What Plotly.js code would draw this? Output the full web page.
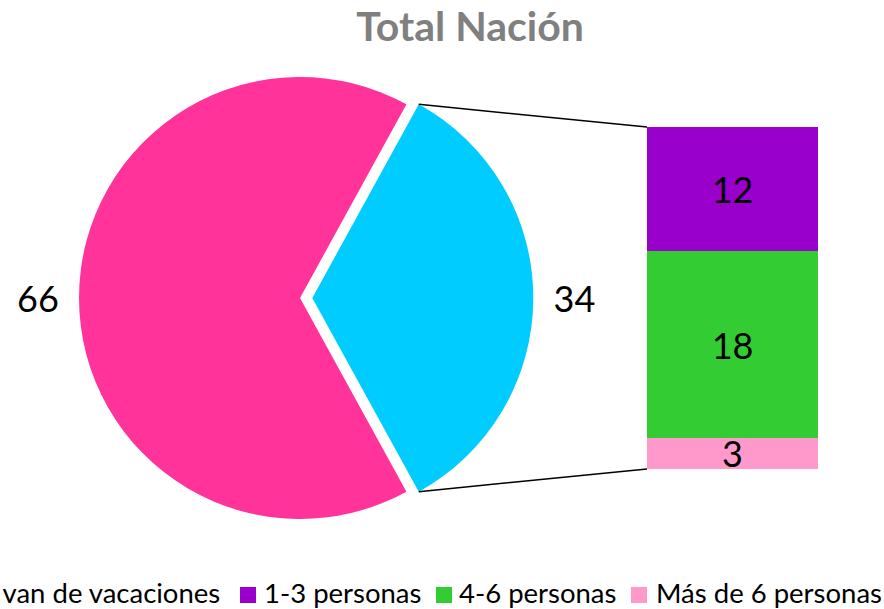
<!DOCTYPE html>
<html><head><meta charset="utf-8">
<script src="https://cdn.plot.ly/plotly-3.0.1.min.js"></script>
<style>html,body{margin:0;padding:0;background:#fff}</style>
</head><body>
<div id="chart" style="width:884px;height:609px"></div>
<script>
// ---- data ----
const pieLabels = ['No van de vacaciones', 'Van de vacaciones'];
const pieValues = [66, 34];
const pieColors = ['#FF3399', '#00CCFF'];
const barLabels = ['1-3 personas', '4-6 personas', 'Más de 6 personas'];
const barValues = [12, 18, 3];
const barColors = ['#9900CC', '#33CC33', '#FF99CC'];
const titleText = 'Total Nación';

// ---- layout geometry ----
const W = 884, H = 609;
const FONT = 'Lato, "Open Sans", sans-serif';
const pieCx = 300, pieCy = 298, pieR = 221, pullPx = 12.3;
const pull = pullPx / pieR;
const boxR = pieR * (1 + pull);
const pieDomX = [(pieCx - boxR) / W, (pieCx + boxR) / W];
const pieDomY = [1 - (pieCy + boxR) / H, 1 - (pieCy - boxR) / H];
const barDomX = [647 / W, 818 / W];
const barDomY = [1 - 469 / H, 1 - 127 / H];

const pieTotal = pieValues.reduce((a, b) => a + b, 0);
const otherFrac = pieValues[1] / pieTotal;
const rotation = 90 + 180 * otherFrac;
const halfAng = Math.PI * otherFrac;
const barTotal = barValues.reduce((a, b) => a + b, 0);

// connector endpoints derived from pie geometry and bar axis
const ocx = pieCx + pullPx;
const topPt = [ocx + pieR * Math.cos(halfAng), pieCy - pieR * Math.sin(halfAng)];
const botPt = [ocx + pieR * Math.cos(halfAng), pieCy + pieR * Math.sin(halfAng)];

const PAD = '\u00a0';
const traces = [];
traces.push({
  type: 'pie',
  labels: pieLabels,
  values: pieValues,
  sort: false,
  direction: 'clockwise',
  rotation: rotation,
  pull: [0, pull],
  marker: {colors: pieColors, line: {width: 0}},
  textposition: 'outside',
  texttemplate: ['%{value}' + PAD, PAD + '%{value}'],
  outsidetextfont: {family: FONT, size: 36, color: '#000'},
  domain: {x: pieDomX, y: pieDomY},
  showlegend: false,
  hoverinfo: 'label+value'
});
// stacked bar: bottom first
for (let i = barValues.length - 1; i >= 0; i--) {
  traces.push({
    type: 'bar',
    x: [0],
    y: [barValues[i]],
    name: barLabels[i],
    marker: {color: barColors[i], line: {width: 0}},
    texttemplate: '%{y}',
    textposition: 'inside',
    insidetextanchor: 'middle',
    textangle: 0,
    constraintext: 'none',
    textfont: {family: FONT, size: 36, color: '#000'},
    insidetextfont: {family: FONT, size: 36, color: '#000'},
    cliponaxis: false,
    showlegend: false,
    xaxis: 'x', yaxis: 'y'
  });
}

// manual legend (first entry clipped at the left edge, as in the reference)
const legendNames = [pieLabels[0]].concat(barLabels);
const legendColors = [pieColors[0]].concat(barColors);
const legendSquareX = [-60, 240, 436, 631];
const legendTextX = [222, 262, 457, 654];
const legendY = 592;
const shapes = [];
const annotations = [];
legendNames.forEach((n, i) => {
  shapes.push({type: 'rect', xref: 'paper', yref: 'paper',
    x0: legendSquareX[i] / W, x1: (legendSquareX[i] + 16) / W,
    y0: 1 - (legendY + 11) / H, y1: 1 - (legendY - 5) / H,
    fillcolor: legendColors[i], line: {width: 0}});
  annotations.push({xref: 'paper', yref: 'paper', showarrow: false,
    x: legendTextX[i] / W, y: 1 - legendY / H,
    xanchor: i === 0 ? 'right' : 'left', yanchor: 'middle',
    text: n, font: {family: FONT, size: 27.5, color: '#000'}});
});
[topPt, botPt].forEach((p, k) => {
  shapes.push({type: 'line', xref: 'paper', yref: 'paper',
    x0: p[0] / W, y0: 1 - p[1] / H,
    x1: barDomX[0], y1: k === 0 ? barDomY[1] : barDomY[0],
    line: {color: '#000', width: 1.5}});
});

const layout = {
  width: W, height: H,
  margin: {l: 0, r: 0, t: 0, b: 0, autoexpand: false},
  paper_bgcolor: '#fff', plot_bgcolor: 'rgba(0,0,0,0)',
  title: {text: titleText, font: {family: FONT, size: 41, color: '#808080', weight: 700},
    x: 470 / W, xanchor: 'center', xref: 'paper', y: 1 - 27 / H, yanchor: 'middle', yref: 'container'},
  barmode: 'stack', bargap: 0,
  xaxis: {domain: barDomX, range: [-0.5, 0.5], visible: false, fixedrange: true},
  yaxis: {domain: barDomY, range: [0, barTotal], visible: false, fixedrange: true},
  showlegend: false,
  shapes: shapes,
  annotations: annotations
};

Plotly.newPlot('chart', traces, layout, {displayModeBar: false, staticPlot: true});
</script>
</body></html>
